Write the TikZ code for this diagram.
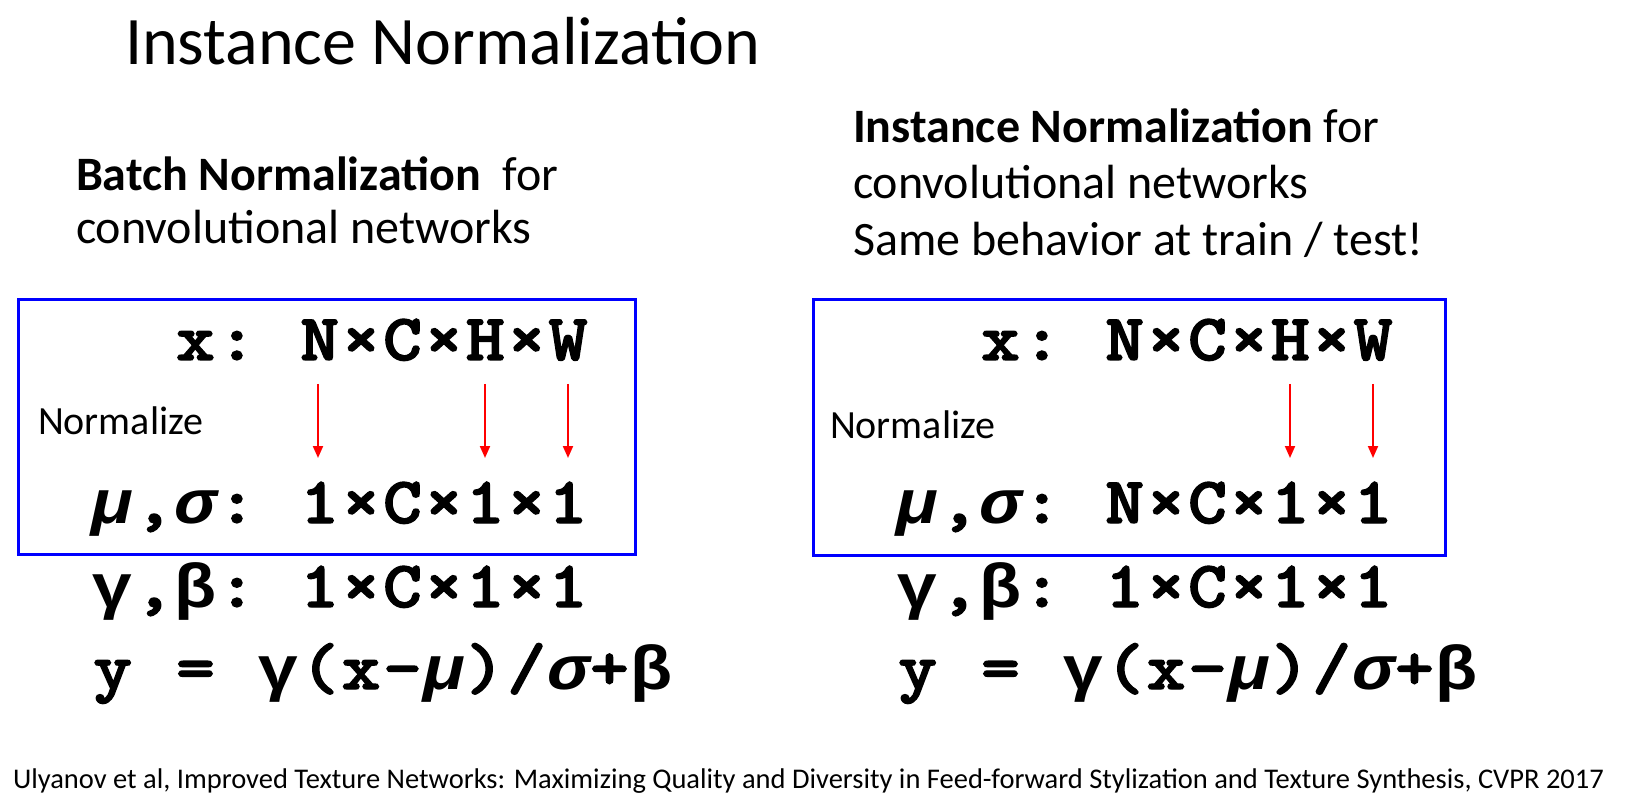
\documentclass[tikz,border=0pt]{standalone}
\usepackage{fontspec}
\usepackage{graphicx}
\setmainfont{Carlito}
\newfontfamily\grkfont{Liberation Mono}
\newfontfamily\lmmono{lmmonolt10-bold.otf}[FakeBold=2]
\usetikzlibrary{arrows.meta}
\definecolor{boxblue}{RGB}{0,0,255}
\definecolor{arrred}{RGB}{255,0,0}
% fixed-pitch cells (Courier-like grid)
\newlength\cellw \setlength\cellw{41.4pt}
\newcommand\gcell[1]{\makebox[\cellw][c]{\scalebox{1.12}[1]{#1}}}
\def\gridend{\gridend}
\def\gridrow#1{\gridstep#1\gridend}
\def\gridstep#1{\ifx#1\gridend\else\gcell{#1}\expandafter\gridstep\fi}
\newcommand\lmcode{\lmmono\fontsize{66}{66}\selectfont}
\newcommand\grkup{\grkfont\bfseries\fontsize{62}{62}\selectfont}
\def\gmm{{\grkup γ}}
\def\btt{{\grkup β}}
\def\imu{{\grkup\itshape μ}}
\def\isg{{\grkup\itshape σ}}
\begin{document}
\begin{tikzpicture}[x=1pt,y=-1pt,
  txt/.style={anchor=base west,inner sep=0pt,outer sep=0pt},
  titletext/.style={txt,font=\fontsize{68}{68}\selectfont},
  headtext/.style={txt,font=\fontsize{48}{48}\selectfont},
  smalltext/.style={txt,font=\fontsize{40}{40}\selectfont},
  foottext/.style={txt,font=\fontsize{28.5}{28.5}\selectfont},
  codetext/.style={txt,font=\lmcode},
  frame/.style={draw=boxblue,line width=3pt},
  normarrow/.style={draw=arrred,line width=2pt,-{Triangle[length=12pt,width=10pt]}}
]
\fill[white] (0,0) rectangle (1642,802);
\useasboundingbox (0,0) rectangle (1642,802);

% title
\node[titletext] (title) at (125,65) {Instance Normalization};

% left heading
\node[headtext] (lh1) at (76,191) {\textbf{Batch Normalization}\ \ for};
\node[headtext] (lh2) at (76,244) {convolutional networks};

% right heading
\node[headtext] (rh1) at (853,143) {\textbf{Instance Normalization} for};
\node[headtext] (rh2) at (853,199) {convolutional networks};
\node[headtext] (rh3) at (853,256) {Same behavior at train / test!};

% boxes
\draw[frame] (18,300) rectangle (635,554);
\draw[frame] (813,300) rectangle (1445,555);

% left block
\node[codetext] (lx) at (92,360) {\gridrow{~~x:~N×C×H×W}};
\node[smalltext] (lnorm) at (38,435) {Normalize};
\node[codetext] (lmu) at (92,523) {\gridrow{\imu,\isg:~1×C×1×1}};
\node[codetext] (lgb) at (92,607) {\gridrow{\gmm,\btt:~1×C×1×1}};
\node[codetext] (ly) at (92,689) {\gridrow{y~=~\gmm(x-\imu)/\isg+\btt}};

% right block
\node[codetext] (rx) at (897,360) {\gridrow{~~x:~N×C×H×W}};
\node[smalltext] (rnorm) at (830,438) {Normalize};
\node[codetext] (rmu) at (897,523) {\gridrow{\imu,\isg:~N×C×1×1}};
\node[codetext] (rgb) at (897,607) {\gridrow{\gmm,\btt:~1×C×1×1}};
\node[codetext] (ry) at (897,689) {\gridrow{y~=~\gmm(x-\imu)/\isg+\btt}};

% arrows
\coordinate (la1s) at (318,384); \coordinate (la1e) at (318,458);
\coordinate (la2s) at (485,384); \coordinate (la2e) at (485,458);
\coordinate (la3s) at (568,384); \coordinate (la3e) at (568,458);
\coordinate (ra1s) at (1290,384); \coordinate (ra1e) at (1290,458);
\coordinate (ra2s) at (1373,384); \coordinate (ra2e) at (1373,458);
\draw[normarrow] (la1s) -- (la1e);
\draw[normarrow] (la2s) -- (la2e);
\draw[normarrow] (la3s) -- (la3e);
\draw[normarrow] (ra1s) -- (ra1e);
\draw[normarrow] (ra2s) -- (ra2e);

% footer
\node[foottext] (foot) at (13,788) {Ulyanov et al, Improved Texture Networks: Maximizing Quality and Diversity in Feed-forward Stylization and Texture Synthesis, CVPR 2017};
\end{tikzpicture}
\end{document}
